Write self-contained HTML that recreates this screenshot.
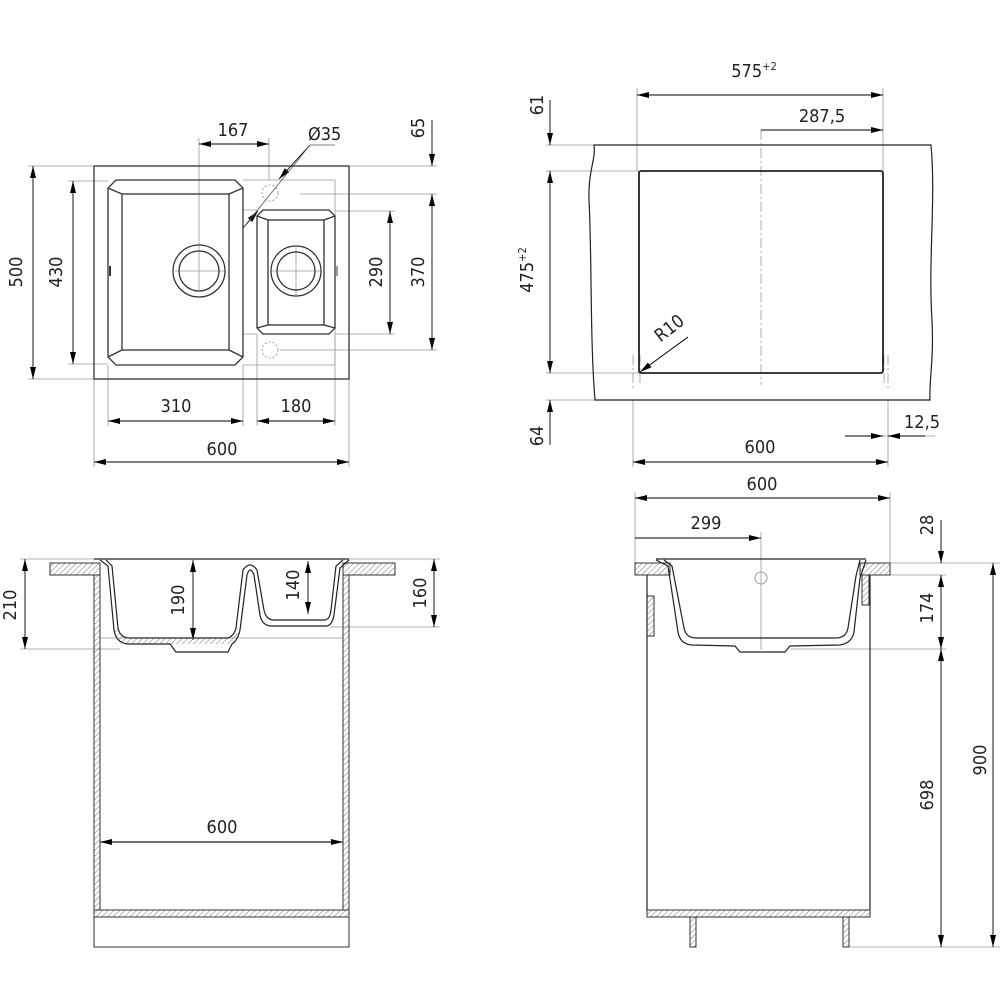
<!DOCTYPE html>
<html><head><meta charset="utf-8"><style>
html,body{margin:0;padding:0;background:#fff}
svg{display:block}
text{font-family:"DejaVu Sans Condensed","Liberation Sans Narrow","Liberation Sans",sans-serif;font-size:18px;fill:#222;font-weight:300}
</style></head><body>
<svg width="1000" height="1000" viewBox="0 0 1000 1000" xmlns="http://www.w3.org/2000/svg">
<defs>
<marker id="a" viewBox="0 0 12 6" refX="12" refY="3" markerWidth="12" markerHeight="6" markerUnits="userSpaceOnUse" orient="auto-start-reverse"><path d="M0,0L12,3L0,6z" fill="#000"/></marker>
<pattern id="h" width="4" height="4" patternUnits="userSpaceOnUse" patternTransform="rotate(45)"><line x1="0" y1="0" x2="0" y2="4" stroke="#555" stroke-width="0.8"/></pattern>
</defs>
<g fill="none" stroke="#999" stroke-width="0.8">
<line x1="28" y1="166" x2="94" y2="166"/><line x1="28" y1="379" x2="94" y2="379"/>
<line x1="68" y1="181" x2="108" y2="181"/><line x1="68" y1="364" x2="108" y2="364"/>
<line x1="199" y1="138" x2="199" y2="290"/><line x1="269" y1="138" x2="269" y2="180"/>
<line x1="349" y1="166" x2="437" y2="166"/><line x1="300" y1="194" x2="437" y2="194"/><line x1="280" y1="350" x2="437" y2="350"/>
<line x1="335" y1="211" x2="395" y2="211"/><line x1="335" y1="334" x2="395" y2="334"/>
<line x1="108" y1="365" x2="108" y2="426"/><line x1="243" y1="365" x2="243" y2="426"/><line x1="257" y1="334" x2="257" y2="426"/><line x1="335" y1="334" x2="335" y2="426"/>
<line x1="94" y1="379" x2="94" y2="467"/><line x1="349" y1="379" x2="349" y2="467"/>
<line x1="243" y1="180" x2="335" y2="180"/><line x1="335" y1="180" x2="335" y2="365"/><line x1="243" y1="365" x2="335" y2="365"/>
<line x1="243" y1="210" x2="257" y2="210"/><line x1="243" y1="334" x2="257" y2="334"/>
<line x1="175" y1="271" x2="225" y2="271"/><line x1="272" y1="271" x2="320" y2="271"/><line x1="296" y1="247" x2="296" y2="295"/>
<line x1="637" y1="88" x2="637" y2="171"/><line x1="883" y1="88" x2="883" y2="171"/>
<line x1="546" y1="145" x2="594" y2="145"/><line x1="546" y1="171" x2="639" y2="171"/><line x1="546" y1="373" x2="639" y2="373"/><line x1="546" y1="400" x2="595" y2="400"/>
<line x1="633" y1="400" x2="633" y2="467"/><line x1="888" y1="400" x2="888" y2="467"/>
<line x1="845" y1="436" x2="935" y2="436"/>
<line x1="640" y1="372" x2="688" y2="337"/>
<line x1="20" y1="559" x2="94" y2="559"/><line x1="20" y1="649" x2="120" y2="649"/>
<line x1="349" y1="559" x2="440" y2="559"/><line x1="330" y1="627" x2="440" y2="627"/>
<line x1="100" y1="638" x2="343" y2="638"/>
<line x1="100" y1="842" x2="343" y2="842" stroke="#bbb" stroke-width="1.5"/>
<line x1="635" y1="492" x2="635" y2="563"/><line x1="890" y1="492" x2="890" y2="563"/>
<line x1="761" y1="532" x2="761" y2="650"/>
<line x1="890" y1="563" x2="1000" y2="563"/><line x1="890" y1="575" x2="946" y2="575"/>
<line x1="790" y1="649" x2="946" y2="649"/><line x1="849" y1="947" x2="1000" y2="947"/>
</g>
<g fill="none" stroke="#999" stroke-width="0.8" stroke-dasharray="10,3,2,3">
<line x1="761" y1="130" x2="761" y2="385"/>
<line x1="633" y1="355" x2="633" y2="388"/><line x1="888" y1="355" x2="888" y2="388"/>
<line x1="640" y1="355" x2="640" y2="385"/><line x1="884" y1="355" x2="884" y2="385"/>
</g>
<g stroke="#000" stroke-width="0.9" fill="none" marker-start="url(#a)" marker-end="url(#a)">
<line x1="33" y1="166" x2="33" y2="379"/>
<line x1="73" y1="181" x2="73" y2="364"/>
<line x1="199" y1="144" x2="269" y2="144"/>
<line x1="432" y1="194" x2="432" y2="350"/>
<line x1="390" y1="211" x2="390" y2="334"/>
<line x1="108" y1="421" x2="243" y2="421"/>
<line x1="257" y1="421" x2="335" y2="421"/>
<line x1="94" y1="462" x2="349" y2="462"/>
<line x1="637" y1="95" x2="883" y2="95"/>
<line x1="550" y1="171" x2="550" y2="373"/>
<line x1="633" y1="462" x2="888" y2="462"/>
<line x1="25" y1="559" x2="25" y2="649"/>
<line x1="193" y1="560" x2="193" y2="640"/>
<line x1="308" y1="561" x2="308" y2="614"/>
<line x1="434" y1="559" x2="434" y2="627"/>
<line x1="100" y1="842" x2="343" y2="842"/>
<line x1="635" y1="498" x2="890" y2="498"/>
<line x1="941" y1="575" x2="941" y2="649"/>
<line x1="941" y1="649" x2="941" y2="947"/>
<line x1="993" y1="563" x2="993" y2="947"/>
</g>
<g stroke="#000" stroke-width="0.9" fill="none" marker-end="url(#a)">
<line x1="761" y1="130" x2="883" y2="130"/>
<line x1="635" y1="538" x2="761" y2="538"/>
<line x1="432" y1="120" x2="432" y2="166"/>
<line x1="550" y1="100" x2="550" y2="145"/>
<line x1="550" y1="445" x2="550" y2="400"/>
<line x1="845" y1="436" x2="883" y2="436"/>
<line x1="925" y1="436" x2="888" y2="436"/>
<line x1="941" y1="520" x2="941" y2="563"/>
<line x1="688" y1="337" x2="640" y2="372"/>
<line x1="310" y1="145" x2="279" y2="179"/>
<line x1="243" y1="228" x2="258" y2="211"/>
</g>
<line x1="310" y1="145" x2="243" y2="228" stroke="#555" stroke-width="0.8"/>
<line x1="310" y1="145" x2="335" y2="145" stroke="#555" stroke-width="0.8"/>

<g fill="none" stroke="#333" stroke-width="1.3">
<rect x="94" y="166" width="255" height="213"/>
<path d="M116,180 L235,180 L243,188 L243,357 L235,365 L116,365 L108,357 L108,188 Z"/>
<rect x="122" y="194" width="107" height="156"/>
<line x1="108" y1="188" x2="122" y2="194"/><line x1="243" y1="188" x2="229" y2="194"/><line x1="108" y1="357" x2="122" y2="350"/><line x1="243" y1="357" x2="229" y2="350"/>
<path d="M263,210 L329,210 L335,216 L335,328 L329,334 L263,334 L257,328 L257,216 Z"/>
<rect x="268" y="220" width="56" height="105"/>
<line x1="257" y1="216" x2="268" y2="220"/><line x1="335" y1="216" x2="324" y2="220"/><line x1="257" y1="328" x2="268" y2="325"/><line x1="335" y1="328" x2="324" y2="325"/>
<circle cx="199" cy="271" r="26"/><circle cx="199" cy="271" r="20"/>
<circle cx="296" cy="271" r="25"/><circle cx="296" cy="271" r="19"/>
<line x1="110" y1="266" x2="110" y2="276" stroke-width="2"/>
<line x1="337" y1="266" x2="337" y2="276" stroke-width="1"/>
</g>
<g fill="none" stroke="#888" stroke-width="0.8" stroke-dasharray="2,2">
<circle cx="270" cy="193" r="8"/><circle cx="270" cy="350" r="8"/>
</g>

<g fill="none" stroke="#222" stroke-width="1.2">
<path d="M594,145 L931,145 C936,200 928,260 932,320 C934,360 929,380 930,400 L595,400 C590,340 592,260 589,200 C588,170 596,160 594,145 Z"/>
<rect x="639" y="171" width="244" height="202" rx="2" stroke-width="1.8"/>
</g>

<g stroke="#333" stroke-width="1">
<rect x="50" y="563" width="50" height="12" fill="url(#h)"/>
<rect x="343" y="563" width="52" height="12" fill="url(#h)"/>
<rect x="94" y="575" width="6" height="335" fill="url(#h)"/>
<rect x="343" y="575" width="6" height="335" fill="url(#h)"/>
<rect x="94" y="910" width="255" height="7" fill="url(#h)"/>
<rect x="94" y="917" width="255" height="30" fill="none"/>
</g>
<g fill="none" stroke="#222" stroke-width="1.2">
<line x1="94" y1="559" x2="349" y2="559"/>
<path d="M100,560 L108,566 L114,630 Q116,643 128,644 L170,644 L176,652 L228,652 L232,644 Q238,640 240,630 L247,575 Q250,565 254,575 L260,615 Q262,626 272,626 L326,626 Q332,626 334,615 L340,568 L349,560"/>
<path d="M106,560 L112,566 L118,628 Q120,638 130,638 L228,638 Q234,636 236,628 L243,570 Q250,560 257,570 L264,610 Q266,620 274,620 L324,620 Q330,620 331,610 L336,566 L343,560"/>
</g>
<g fill="url(#h)" stroke="none"><path d="M118,628 Q120,638 130,638 L228,638 Q234,636 236,628 L240,630 Q238,640 232,644 L128,644 Q116,643 114,630 Z"/></g>

<g stroke="#333" stroke-width="1">
<rect x="635" y="563" width="35" height="12" fill="url(#h)"/>
<rect x="860" y="563" width="30" height="12" fill="url(#h)"/>
<rect x="647" y="596" width="7" height="40" fill="url(#h)"/>
<rect x="862" y="575" width="7" height="30" fill="url(#h)"/>
<rect x="647" y="910" width="223" height="7" fill="url(#h)"/>
<rect x="690" y="917" width="6" height="30" fill="url(#h)"/>
<rect x="843" y="917" width="6" height="30" fill="url(#h)"/>
</g>
<g fill="none" stroke="#222" stroke-width="1.2">
<line x1="647" y1="575" x2="647" y2="910"/><line x1="870" y1="575" x2="870" y2="910"/>
<line x1="656" y1="559" x2="866" y2="559"/>
<path d="M656,560 L668,566 L678,632 Q680,644 692,645 L735,646 L740,652 L785,652 L790,646 L840,645 Q852,643 854,632 L860,578 L866,560"/>
<path d="M664,560 L672,566 L684,628 Q686,638 696,638 L836,638 Q846,638 848,628 L856,576 L860,560"/>
<circle cx="761" cy="578" r="6" stroke="#888" stroke-width="0.8"/>
</g>

<g>
<text x="233" y="136" text-anchor="middle">167</text>
<text x="308" y="140">Ø35</text>
<text transform="translate(424,128) rotate(-90)" text-anchor="middle">65</text>
<text transform="translate(22,272) rotate(-90)" text-anchor="middle">500</text>
<text transform="translate(62,272) rotate(-90)" text-anchor="middle">430</text>
<text transform="translate(382,272) rotate(-90)" text-anchor="middle">290</text>
<text transform="translate(424,272) rotate(-90)" text-anchor="middle">370</text>
<text x="176" y="412" text-anchor="middle">310</text>
<text x="296" y="412" text-anchor="middle">180</text>
<text x="222" y="455" text-anchor="middle">600</text>

<text x="754" y="77" text-anchor="middle">575<tspan font-size="11" dy="-7">+2</tspan></text>
<text x="822" y="122" text-anchor="middle">287,5</text>
<text transform="translate(543,105) rotate(-90)" text-anchor="middle">61</text>
<text transform="translate(533,270) rotate(-90)" text-anchor="middle">475<tspan font-size="11" dy="-7">+2</tspan></text>
<text transform="translate(543,436) rotate(-90)" text-anchor="middle">64</text>
<text transform="translate(673,333) rotate(-38)" text-anchor="middle">R10</text>
<text x="922" y="428" text-anchor="middle">12,5</text>
<text x="760" y="453" text-anchor="middle">600</text>

<text transform="translate(16,605) rotate(-90)" text-anchor="middle">210</text>
<text transform="translate(184,600) rotate(-90)" text-anchor="middle">190</text>
<text transform="translate(299,585) rotate(-90)" text-anchor="middle">140</text>
<text transform="translate(426,593) rotate(-90)" text-anchor="middle">160</text>
<text x="222" y="833" text-anchor="middle">600</text>

<text x="762" y="490" text-anchor="middle">600</text>
<text x="706" y="529" text-anchor="middle">299</text>
<text transform="translate(933,525) rotate(-90)" text-anchor="middle">28</text>
<text transform="translate(933,608) rotate(-90)" text-anchor="middle">174</text>
<text transform="translate(933,795) rotate(-90)" text-anchor="middle">698</text>
<text transform="translate(986,760) rotate(-90)" text-anchor="middle">900</text>
</g>
</svg>
</body></html>
